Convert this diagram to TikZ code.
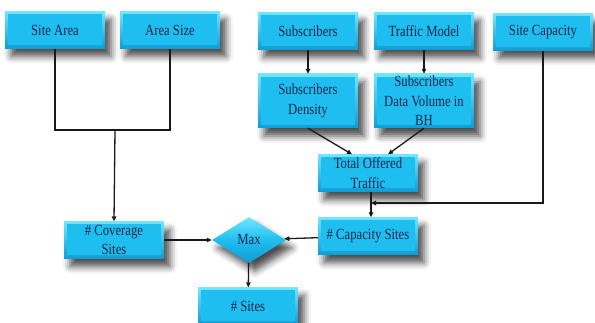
\documentclass[tikz,border=0pt]{standalone}
\usepackage{fontspec}
\setmainfont{Liberation Serif}[FakeStretch=0.82]
\usepackage{tikz}
\usetikzlibrary{shapes.geometric, arrows.meta, shadows.blur}
\definecolor{boxCyan}{HTML}{1EBEF0}
\definecolor{boxLight}{HTML}{72E6FF}
\definecolor{boxDark}{HTML}{109CD4}
\definecolor{inkNavy}{HTML}{1A2748}

\begin{document}
\begin{tikzpicture}[x=1pt,y=-1pt,
    box/.style={rectangle,minimum width=100pt,minimum height=37pt,inner sep=1pt,
        top color=boxLight,bottom color=boxDark,text=inkNavy,align=center,
        font=\fontsize{15.5}{19.5}\selectfont,
        blur shadow={shadow xshift=6pt,shadow yshift=-8pt,shadow blur radius=7pt,shadow opacity=70},
        path picture={\fill[boxCyan]([shift={(3pt,-3pt)}]path picture bounding box.north west)
            rectangle ([shift={(-3pt,3pt)}]path picture bounding box.south east);}},
    maxd/.style={diamond,minimum width=74pt,minimum height=46pt,inner sep=0pt,
        top color=boxLight,bottom color=boxDark,middle color=boxCyan,text=inkNavy,
        font=\fontsize{15.5}{19.5}\selectfont,
        blur shadow={shadow xshift=6pt,shadow yshift=-8pt,shadow blur radius=7pt,shadow opacity=70}},
    conn/.style={-{Triangle[length=5pt,width=4.5pt]},line width=1.3pt,black!90},
    wire/.style={line width=1.3pt,black!90}]
    \useasboundingbox(0,0)rectangle(595,323);
    % inputs
    \node[box](sarea)at(55,30){Site Area};
    \node[box](asize)at(170,30){Area Size};
    \node[box](subs)at(308,31){Subscribers};
    \node[box](tmodel)at(424,31){Traffic Model};
    \node[box](scap)at(543,32){Site Capacity};
    \node[box,minimum height=54pt](dens)at(308,101){Subscribers\\Density};
    \node[box,minimum height=54pt](vol)at(424,101){Subscribers\\Data Volume in\\BH};
    % results
    \node[box](total)at(368,173){Total Offered\\Traffic};
    \node[box](capsites)at(368,236){\# Capacity Sites};
    \node[box](cov)at(114,240){\# Coverage\\Sites};
    \node[maxd](max)at(249,240){Max};
    \node[box](sites)at(248,306){\# Sites};
    % joins
    \coordinate(areajoin)at(115,130);
    \coordinate(capjoin)at(371,203);
    \draw[wire](sarea.south)|-(areajoin)-|(asize.south);
    \draw[conn](areajoin)--(cov.north);
    \draw[conn](subs)--(dens);
    \draw[conn](tmodel)--(vol);
    \draw[conn](dens.south)--([xshift=-16pt]total.north);
    \draw[conn](vol.south)--([xshift=20pt]total.north);
    \draw[conn](total.south-|capjoin)--(capsites.north-|capjoin);
    \draw[conn](scap.south)|-(capjoin);
    \draw[conn](capsites)--(max);
    \draw[conn](cov)--(max);
    \draw[conn](max)--(sites);
\end{tikzpicture}
\end{document}
